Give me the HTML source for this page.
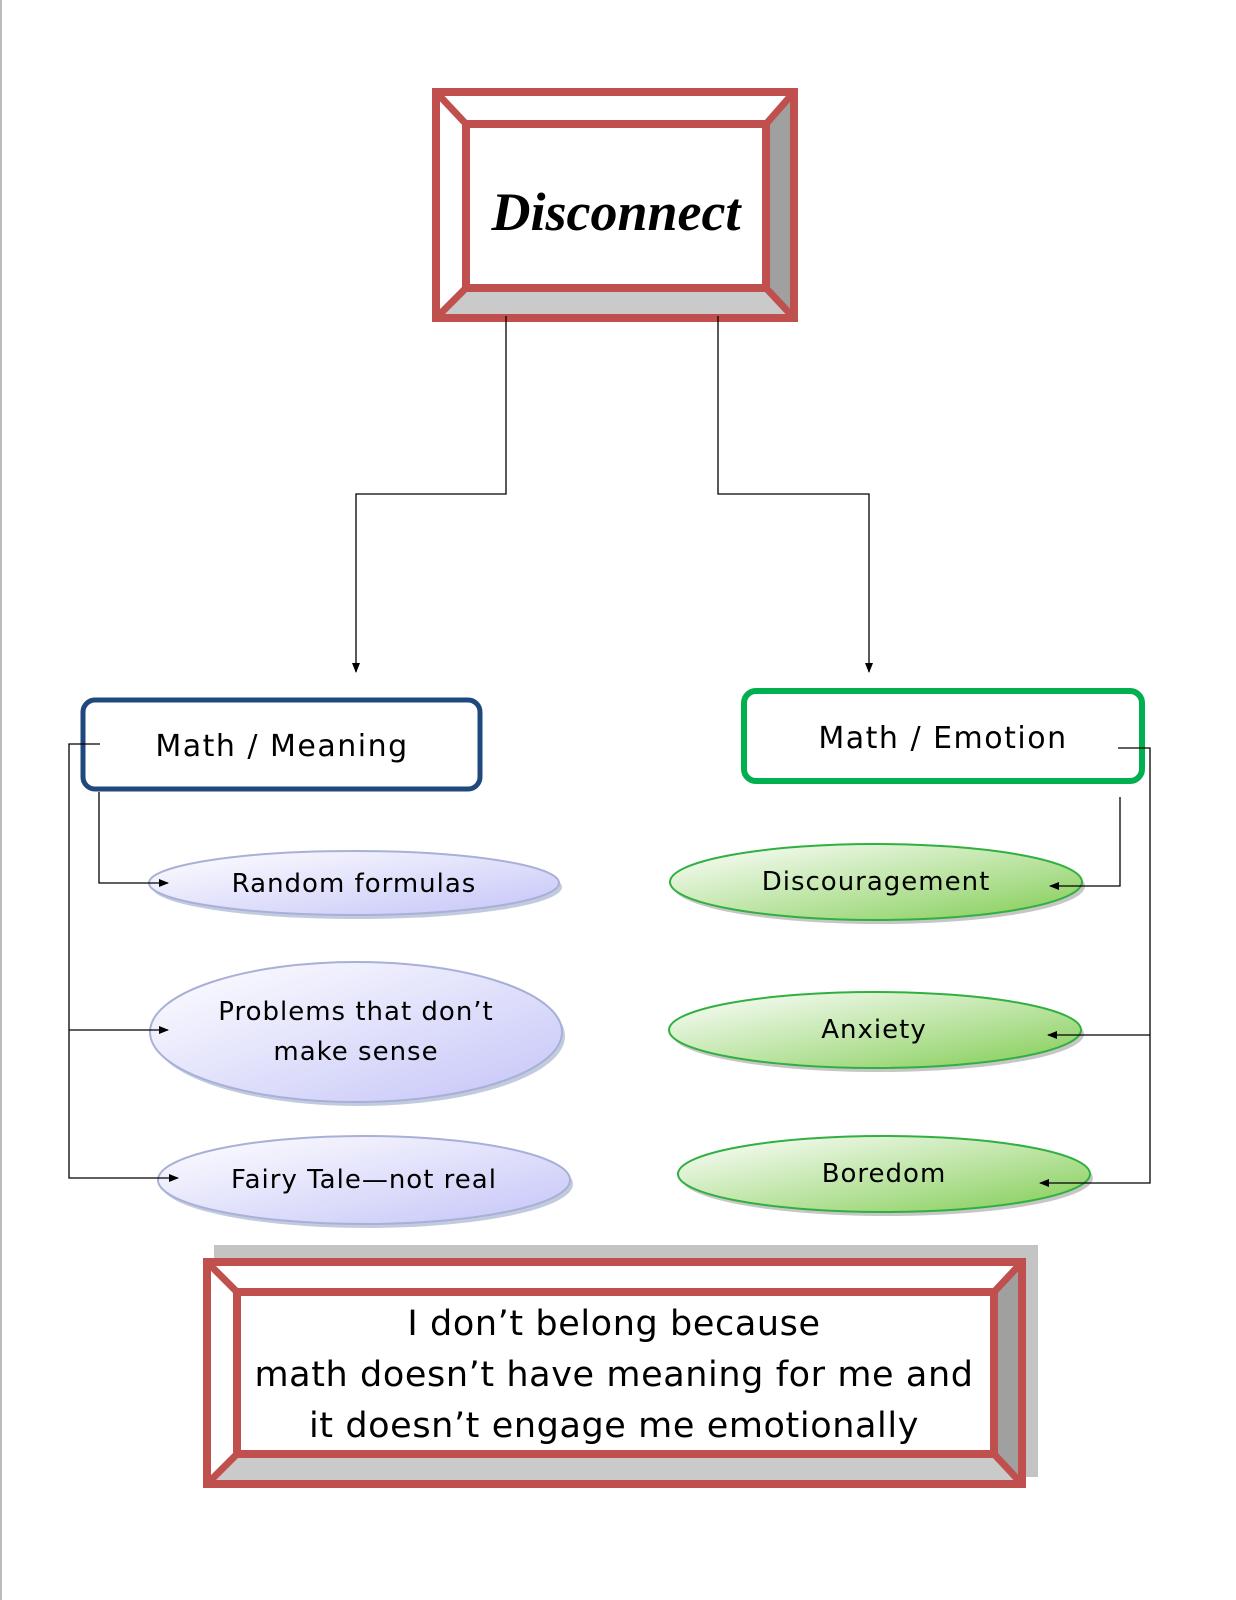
<!DOCTYPE html>
<html><head><meta charset="utf-8"><style>
html,body{margin:0;padding:0;background:#fff;overflow:hidden;}
svg{display:block;}
text{font-family:"DejaVu Sans","Liberation Sans",sans-serif;fill:#000;}
</style></head><body>
<svg width="1236" height="1600" viewBox="0 0 1236 1600" xmlns="http://www.w3.org/2000/svg">
<defs>
<linearGradient id="gb" x1="0" y1="0" x2="1" y2="1">
<stop offset="0" stop-color="#ffffff"/><stop offset="1" stop-color="#c4c4f8"/></linearGradient>
<linearGradient id="gg" x1="0" y1="0" x2="1" y2="1">
<stop offset="0" stop-color="#ffffff"/><stop offset="0.7" stop-color="#a8dc88"/><stop offset="1" stop-color="#80cc50"/></linearGradient>
<marker id="ar" markerWidth="10" markerHeight="10" refX="9" refY="5" orient="auto" markerUnits="userSpaceOnUse">
<path d="M0,1 L10,5 L0,9 z" fill="#000"/></marker>
</defs>
<line x1="1" y1="0" x2="1" y2="1600" stroke="#bbb" stroke-width="2"/>

<!-- top box -->
<rect x="436" y="92" width="358" height="226" fill="#fff"/>
<polygon points="766,124 794,92 794,318 766,288" fill="#a0a0a0"/>
<polygon points="466,288 766,288 794,318 436,318" fill="#cacaca"/>
<rect x="436" y="92" width="358" height="226" fill="none" stroke="#c0504d" stroke-width="8"/>
<rect x="466" y="124" width="300" height="164" fill="#fff" stroke="#c0504d" stroke-width="8"/>
<g stroke="#c0504d" stroke-width="7"><line x1="436" y1="92" x2="466" y2="124"/><line x1="794" y1="92" x2="766" y2="124"/><line x1="436" y1="318" x2="466" y2="288"/><line x1="794" y1="318" x2="766" y2="288"/></g>
<text x="616" y="230" text-anchor="middle" style="font-family:'Liberation Serif',serif;font-style:italic;font-weight:bold;font-size:54px">Disconnect</text>

<!-- category boxes -->
<rect x="83" y="700" width="397" height="89" rx="12" fill="#fff" stroke="#1f497d" stroke-width="5"/>
<text x="282" y="756" text-anchor="middle" font-size="30" letter-spacing="1.5">Math / Meaning</text>
<rect x="744" y="691" width="398" height="90" rx="12" fill="#fff" stroke="#00b050" stroke-width="6"/>
<text x="943" y="748" text-anchor="middle" font-size="30" letter-spacing="1.5">Math / Emotion</text>

<!-- ellipses -->
<g stroke-width="2">
<ellipse cx="357" cy="887" rx="205" ry="32" fill="#9aa8c8" opacity=".6"/>
<ellipse cx="354" cy="883" rx="205" ry="32" fill="url(#gb)" stroke="#a8b0d8"/>
<ellipse cx="359" cy="1036" rx="206" ry="70" fill="#9aa8c8" opacity=".6"/>
<ellipse cx="356" cy="1032" rx="206" ry="70" fill="url(#gb)" stroke="#a8b0d8"/>
<ellipse cx="367" cy="1184" rx="206" ry="44" fill="#9aa8c8" opacity=".6"/>
<ellipse cx="364" cy="1180" rx="206" ry="44" fill="url(#gb)" stroke="#a8b0d8"/>
<ellipse cx="879" cy="886" rx="206" ry="38" fill="#a0a0a0" opacity=".6"/>
<ellipse cx="876" cy="882" rx="206" ry="38" fill="url(#gg)" stroke="#30b040"/>
<ellipse cx="878" cy="1034" rx="206" ry="38" fill="#a0a0a0" opacity=".6"/>
<ellipse cx="875" cy="1030" rx="206" ry="38" fill="url(#gg)" stroke="#30b040"/>
<ellipse cx="887" cy="1178" rx="206" ry="38" fill="#a0a0a0" opacity=".6"/>
<ellipse cx="884" cy="1174" rx="206" ry="38" fill="url(#gg)" stroke="#30b040"/>
</g>
<g font-size="26" text-anchor="middle" letter-spacing="1">
<text x="354" y="892">Random formulas</text>
<text x="356" y="1020">Problems that don’t</text>
<text x="356" y="1060">make sense</text>
<text x="364" y="1188">Fairy Tale—not real</text>
<text x="876" y="890">Discouragement</text>
<text x="874" y="1038">Anxiety</text>
<text x="884" y="1182">Boredom</text>
</g>

<!-- connectors -->
<g fill="none" stroke="#000" stroke-width="1.3">
<polyline points="506,316 506,494 356,494 356,672" marker-end="url(#ar)"/>
<polyline points="718,316 718,494 869,494 869,672" marker-end="url(#ar)"/>
<polyline points="100,744 69,744 69,1178 178,1178" marker-end="url(#ar)"/>
<polyline points="69,1030 168,1030" marker-end="url(#ar)"/>
<polyline points="99,792 99,883 168,883" marker-end="url(#ar)"/>
<polyline points="1118,748 1150,748 1150,1183 1040,1183" marker-end="url(#ar)"/>
<polyline points="1150,1035 1048,1035" marker-end="url(#ar)"/>
<polyline points="1120,797 1120,886 1050,886" marker-end="url(#ar)"/>
</g>

<!-- bottom box -->
<rect x="214" y="1245" width="824" height="232" fill="#c4c4c4"/>
<rect x="207" y="1262" width="815" height="222" fill="#fff"/>
<polygon points="994,1292 1022,1262 1022,1484 994,1454" fill="#a0a0a0"/>
<polygon points="237,1454 994,1454 1022,1484 207,1484" fill="#cacaca"/>
<rect x="207" y="1262" width="815" height="222" fill="none" stroke="#c0504d" stroke-width="8"/>
<rect x="237" y="1292" width="757" height="162" fill="#fff" stroke="#c0504d" stroke-width="8"/>
<g stroke="#c0504d" stroke-width="7"><line x1="207" y1="1262" x2="237" y2="1292"/><line x1="1022" y1="1262" x2="994" y2="1292"/><line x1="207" y1="1484" x2="237" y2="1454"/><line x1="1022" y1="1484" x2="994" y2="1454"/></g>
<g font-size="35" text-anchor="middle" letter-spacing="0.6">
<text x="614" y="1335">I don’t belong because</text>
<text x="614" y="1386">math doesn’t have meaning for me and</text>
<text x="614" y="1437">it doesn’t engage me emotionally</text>
</g>
</svg>
</body></html>
